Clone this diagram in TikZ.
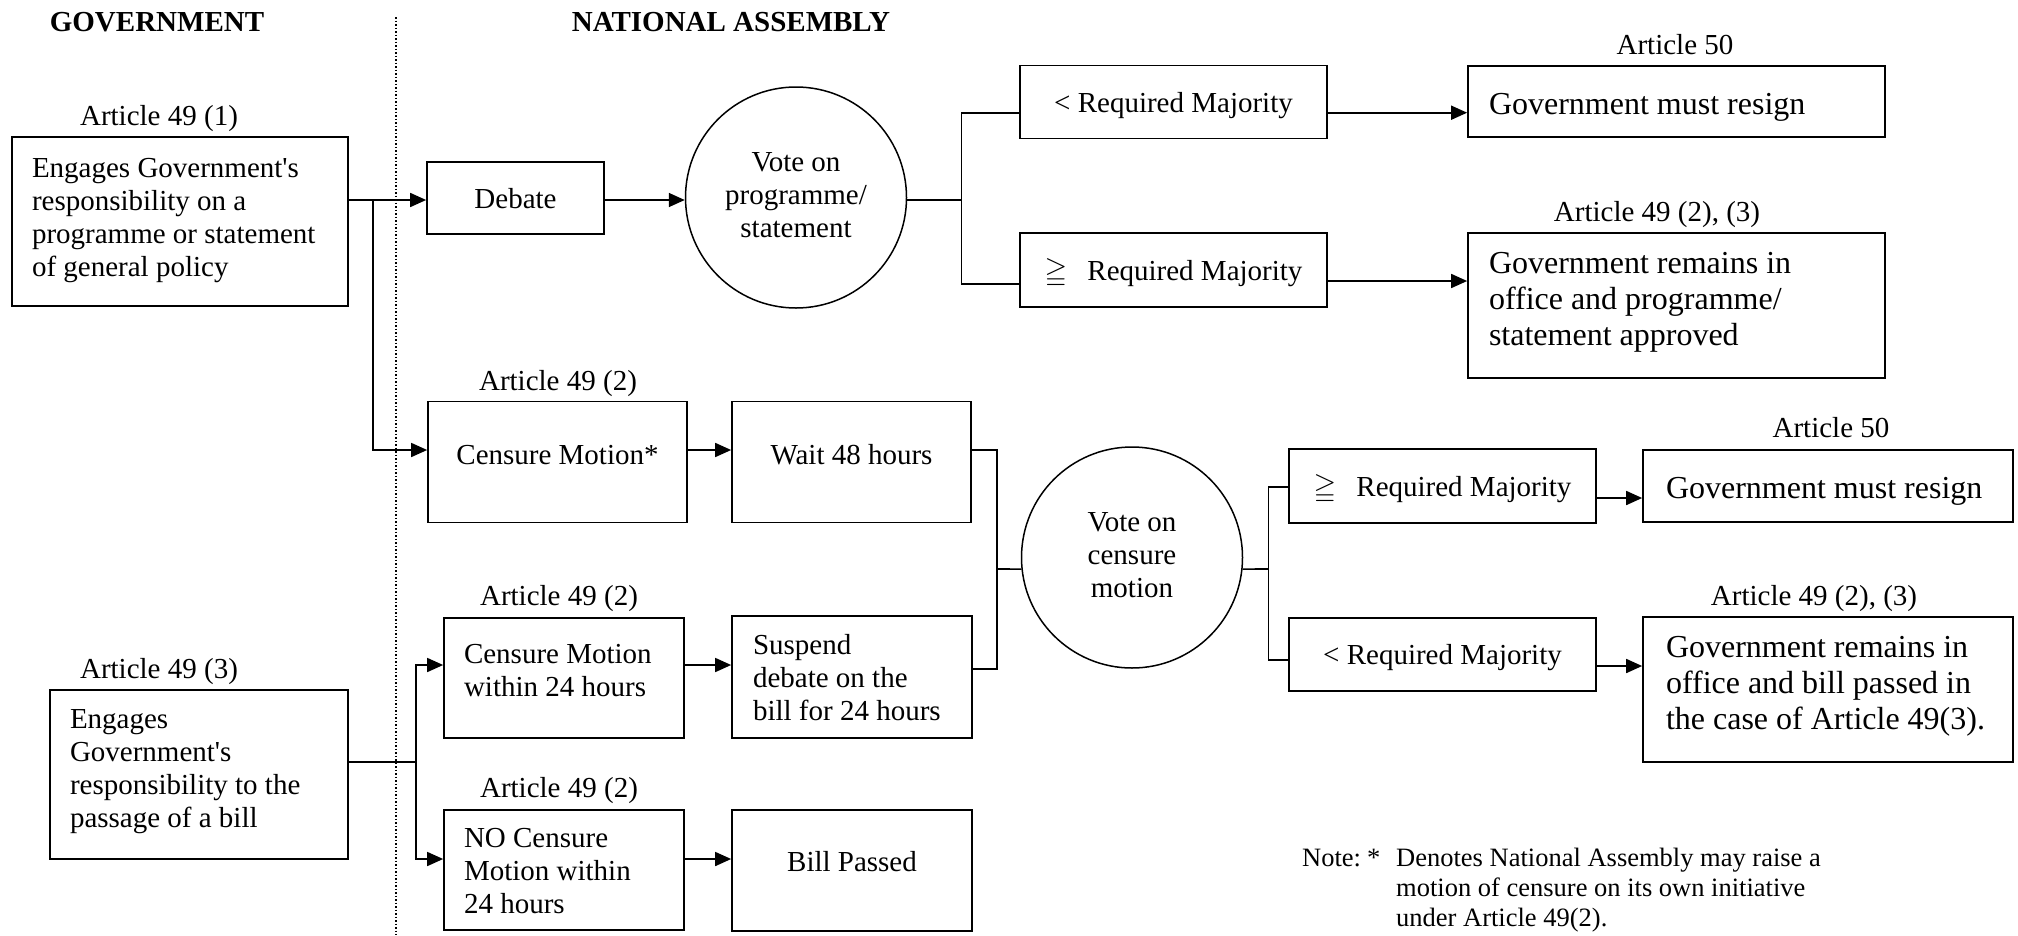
\documentclass[tikz,border=0pt]{standalone}
\usepackage{amssymb}
\usepackage{fontspec}
\setmainfont{Liberation Serif}
\usetikzlibrary{arrows.meta,calc}
\newcommand\fA{\fontsize{29}{33}\selectfont}
\newcommand\fB{\fontsize{32}{36}\selectfont}
\newcommand\fN{\fontsize{26.5}{30}\selectfont}
% \lns[raise]{width}{lines}: left-aligned block of lines, raised without changing its size
\newcommand\lns[3][0pt]{\raisebox{#1}[\height][\depth]{\makebox[#2][l]{\begin{tabular}{@{}l@{}}#3\end{tabular}}}}
\begin{document}
\begin{tikzpicture}[x=1pt,y=-1pt,
  box/.style={draw, line width=1.7pt, inner sep=0pt, font=\fA},
  one/.style={text height=20pt, text depth=0pt},
  oneB/.style={text height=23pt, text depth=0pt},
  ln/.style={line width=1.7pt},
  arr/.style={line width=1.7pt, -{Triangle[length=16pt,width=14pt]}},
  lbl/.style={font=\fA, inner sep=0pt},
  hdr/.style={font=\fA\bfseries, inner sep=0pt},
  vote/.style={draw, circle, line width=1.5pt, minimum size=221pt, inner sep=0pt, font=\fA}]
\useasboundingbox (0,0) rectangle (2018,935);

% headers and divider
\node[hdr] (hgov) at (157,22) {GOVERNMENT};
\node[hdr] (hna) at (731,22) {NATIONAL ASSEMBLY};
\draw[line width=1.2pt, dash pattern=on 1.5pt off 2pt] (396,17) -- (396,935);

% upper part
\node[lbl, anchor=base] (a1) at (159,125) {Article 49 (1)};
\node[box, minimum width=336pt, minimum height=169pt] (b1) at (180,221.5)
  {\lns[1pt]{296pt}{Engages Government\textquotesingle s\\responsibility on a\\programme or statement\\of general policy}};
\node[box, one, minimum width=177pt, minimum height=72pt] (debate) at (515.5,198) {Debate};
\node[vote] (v1) at (796,197.5) {\begin{tabular}{@{}c@{}}Vote on\\programme/\\statement\end{tabular}};
\node[box, one, minimum width=307pt, minimum height=73pt] (lt1) at (1173.5,102) {< Required Majority};
\node[box, one, minimum width=307pt, minimum height=74pt] (ge1) at (1173.5,270) {$\geqq$\hspace{0.7em}Required Majority};
\node[lbl, anchor=base] (a50a) at (1675,54) {Article 50};
\node[box, oneB, minimum width=417pt, minimum height=71pt, font=\fB] (res1) at (1676.5,101.7)
  {\lns{375pt}{Government must resign}};
\node[lbl, anchor=base] (a4923a) at (1657,221.5) {Article 49 (2), (3)};
\node[box, minimum width=417pt, minimum height=145pt, font=\fB] (res2) at (1676.5,305.5)
  {\lns[3.5pt]{375pt}{Government remains in\\office and programme/\\statement approved}};

% censure part
\node[lbl, anchor=base] (a492a) at (558,390) {Article 49 (2)};
\node[box, text height=20pt, text depth=16pt, minimum width=259pt, minimum height=121pt] (cm) at (557.5,462) {Censure Motion*};
\node[box, text height=20pt, text depth=16pt, minimum width=239pt, minimum height=121pt] (wait) at (851.5,462) {Wait 48 hours};
\node[lbl, anchor=base] (a492b) at (559,605) {Article 49 (2)};
\node[box, minimum width=240pt, minimum height=120pt] (cm24) at (564,678)
  {\lns[5pt]{200pt}{Censure Motion\\within 24 hours}};
\node[box, minimum width=240pt, minimum height=122pt] (susp) at (852,677)
  {\lns[-4pt]{198pt}{Suspend\\debate on the\\bill for 24 hours}};
\node[lbl, anchor=base] (a492c) at (559,797) {Article 49 (2)};
\node[box, minimum width=240pt, minimum height=120pt] (no24) at (564,870)
  {\lns[-4pt]{200pt}{NO Censure\\Motion within\\24 hours}};
\node[box, text height=20pt, text depth=18pt, minimum width=240pt, minimum height=121pt] (bill) at (852,870.5) {Bill Passed};
\node[lbl, anchor=base] (a493) at (159,678) {Article 49 (3)};
\node[box, minimum width=298pt, minimum height=169pt] (b2) at (199,774.5)
  {\lns[3pt]{258pt}{Engages\\Government\textquotesingle s\\responsibility to the\\passage of a bill}};

\node[vote] (v2) at (1132,557.5) {\begin{tabular}{@{}c@{}}Vote on\\censure\\motion\end{tabular}};
\node[box, one, minimum width=307pt, minimum height=74pt] (ge2) at (1442.5,486) {$\geqq$\hspace{0.7em}Required Majority};
\node[box, one, minimum width=307pt, minimum height=73pt] (lt2) at (1442.5,654.5) {< Required Majority};
\node[lbl, anchor=base] (a50b) at (1831,437) {Article 50};
\node[box, oneB, minimum width=370pt, minimum height=72pt, font=\fB] (res3) at (1828,485.8)
  {\lns{324pt}{Government must resign}};
\node[lbl, anchor=base] (a4923b) at (1814,605) {Article 49 (2), (3)};
\node[box, minimum width=370pt, minimum height=145pt, font=\fB] (res4) at (1828,689.5)
  {\lns[3pt]{324pt}{Government remains in\\office and bill passed in\\the case of Article 49(3).}};

\node[font=\fN, inner sep=0pt, anchor=base west] (note) at (1302,866)
  {\begin{tabular}[t]{@{}l@{}l@{}}\makebox[94pt][l]{Note:\hspace{6pt}*} & Denotes National Assembly may raise a\\ & motion of censure on its own initiative\\ & under Article 49(2).\end{tabular}};

% junction coordinates
\coordinate (yD) at (0,200);
\coordinate (jB) at (373,200);
\coordinate (j1) at (961.5,200);
\coordinate (j2) at (997,569.05);
\coordinate (j3) at (1268.4,569.05);
\coordinate (j4) at (416,762);
\coordinate (yA) at (0,112.7);
\coordinate (yBi) at (0,284);
\coordinate (yBo) at (0,281);
\coordinate (yC) at (0,487);
\coordinate (yDo) at (0,498);
\coordinate (yE) at (0,660);
\coordinate (yF) at (0,666);
\coordinate (yR1) at (0,450);
\coordinate (yR2) at (0,665);
\coordinate (yR2b) at (0,669);
\coordinate (yR3) at (0,859);

% connectors
\draw[arr] (b1.east |- yD) -- (debate.west |- yD);
\draw[arr] (jB) |- (cm.west |- yR1);
\draw[arr] (debate.east |- yD) -- (v1.west |- yD);
\draw[ln] (v1.east |- yD) -- (j1);
\draw[ln] (lt1.west |- yA) -| (j1) |- (ge1.west |- yBi);
\draw[arr] (lt1.east |- yA) -- (res1.west |- yA);
\draw[arr] (ge1.east |- yBo) -- (res2.west |- yBo);

\draw[arr] (cm.east |- yR1) -- (wait.west |- yR1);
\draw[ln] (wait.east |- yR1) -| (j2) |- (susp.east |- yR2b);
\draw[ln] (j2) -- (v2.186);
\draw[ln] (v2.-6) -- (j3);
\draw[ln] (ge2.west |- yC) -| (j3) |- (lt2.west |- yE);
\draw[arr] (ge2.east |- yDo) -- (res3.west |- yDo);
\draw[arr] (lt2.east |- yF) -- (res4.west |- yF);

\draw[ln] (b2.east |- j4) -- (j4);
\draw[arr] (j4) |- (cm24.west |- yR2);
\draw[arr] (j4) |- (no24.west |- yR3);
\draw[arr] (cm24.east |- yR2) -- (susp.west |- yR2);
\draw[arr] (no24.east |- yR3) -- (bill.west |- yR3);
\end{tikzpicture}
\end{document}
